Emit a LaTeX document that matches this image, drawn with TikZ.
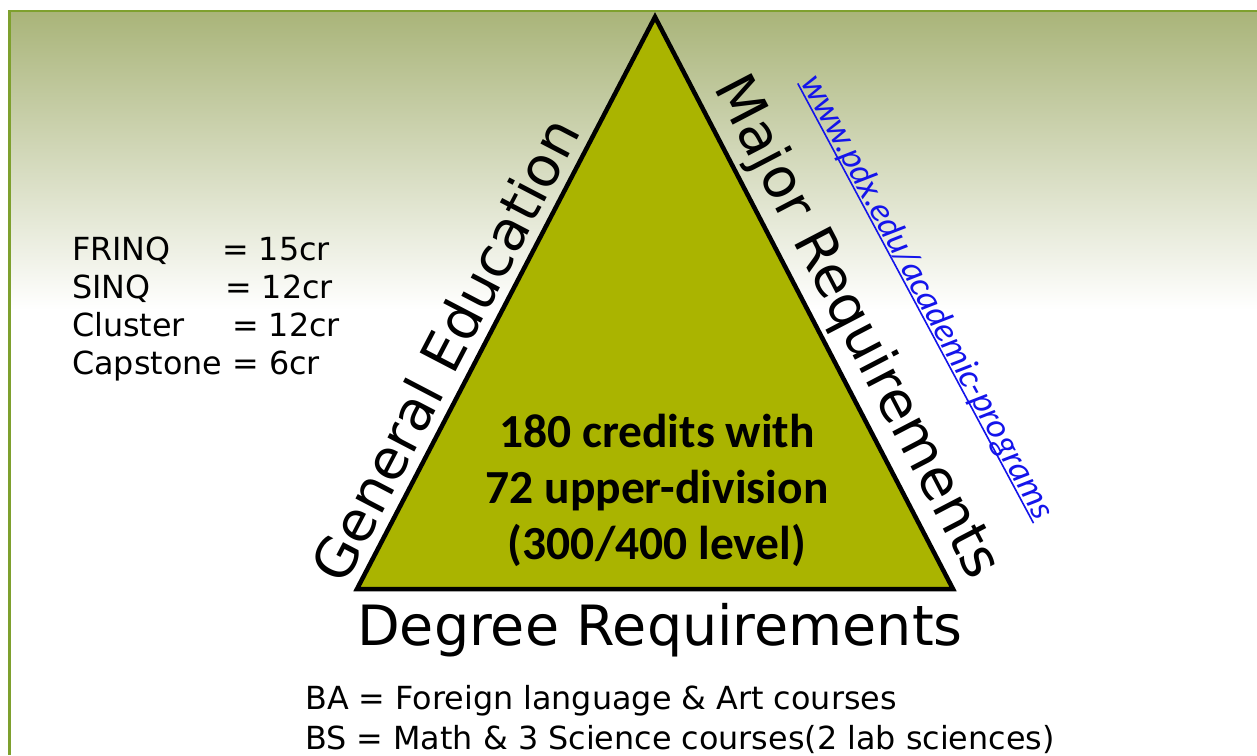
\documentclass[tikz,border=0pt]{standalone}
\usepackage{fontspec}
\setmainfont{DejaVu Sans}
\newfontfamily\calfont{Carlito}
\definecolor{bgtop}{RGB}{169,180,121}
\definecolor{bordergreen}{RGB}{126,160,46}
\definecolor{trifill}{RGB}{170,180,0}
\definecolor{urlblue}{RGB}{20,20,235}
\newsavebox\ulbox
\newcommand\myuline[1]{\sbox\ulbox{#1}\rlap{\rule[-3.5pt]{\wd\ulbox}{1.6pt}}\usebox\ulbox}
\tikzset{
  edgelabel/.style={font=\fontsize{55.5}{66}\selectfont, inner sep=0pt},
  listtext/.style={font=\fontsize{31.8}{38}\selectfont, inner sep=0pt, anchor=base west},
  centertext/.style={font=\calfont\bfseries\fontsize{47.5}{56}\selectfont, inner sep=0pt, anchor=base},
  urltext/.style={font=\calfont\itshape\fontsize{35.5}{42}\selectfont, text=urlblue, inner sep=0pt},
  tri/.style={draw=black, fill=trifill, line width=4.5pt, line join=miter}
}
\begin{document}
\begin{tikzpicture}[x=1pt,y=1pt]
\useasboundingbox (0,0) rectangle (1257,755);
\fill[white] (0,0) rectangle (1257,755);
\shade[top color=bgtop, bottom color=white] (9,445) rectangle (1257,744);
\draw[bordergreen, line width=2.5pt] (9.5,0) -- (9.5,744) -- (1257,744);

\coordinate (apex) at (655,738);
\coordinate (bl) at (357,166);
\coordinate (br) at (953,166);
\draw[tri] (apex) -- (br) -- (bl) -- cycle;

\node[edgelabel, rotate=62.45, anchor=base] (gen) at (463,396) {General Education};
\node[edgelabel, rotate=-62.45, anchor=base] (maj) at (842,420) {Major Requirements};
\node[urltext, rotate=-61.8, anchor=base] (url) at (918,453) {\myuline{www.pdx.edu/academic-programs}};
\node[edgelabel, anchor=base west] (deg) at (357,110) {Degree Requirements};

\node[centertext] (c1) at (657,307) {180 credits with};
\node[centertext] (c2) at (657,251) {72 upper-division};
\node[centertext] (c3) at (657,195) {(300/400 level)};

\node[listtext] (l1) at (72,494) {\makebox[150pt][l]{FRINQ}= 15cr};
\node[listtext] (l2) at (72,456) {\makebox[153pt][l]{SINQ}= 12cr};
\node[listtext] (l3) at (72,418) {\makebox[160pt][l]{Cluster}= 12cr};
\node[listtext] (l4) at (72,380) {Capstone = 6cr};

\node[listtext] (ba) at (305,46) {BA = Foreign language \& Art courses};
\node[listtext] (bs) at (305,6) {BS = Math \& 3 Science courses(2 lab sciences)};
\end{tikzpicture}
\end{document}
